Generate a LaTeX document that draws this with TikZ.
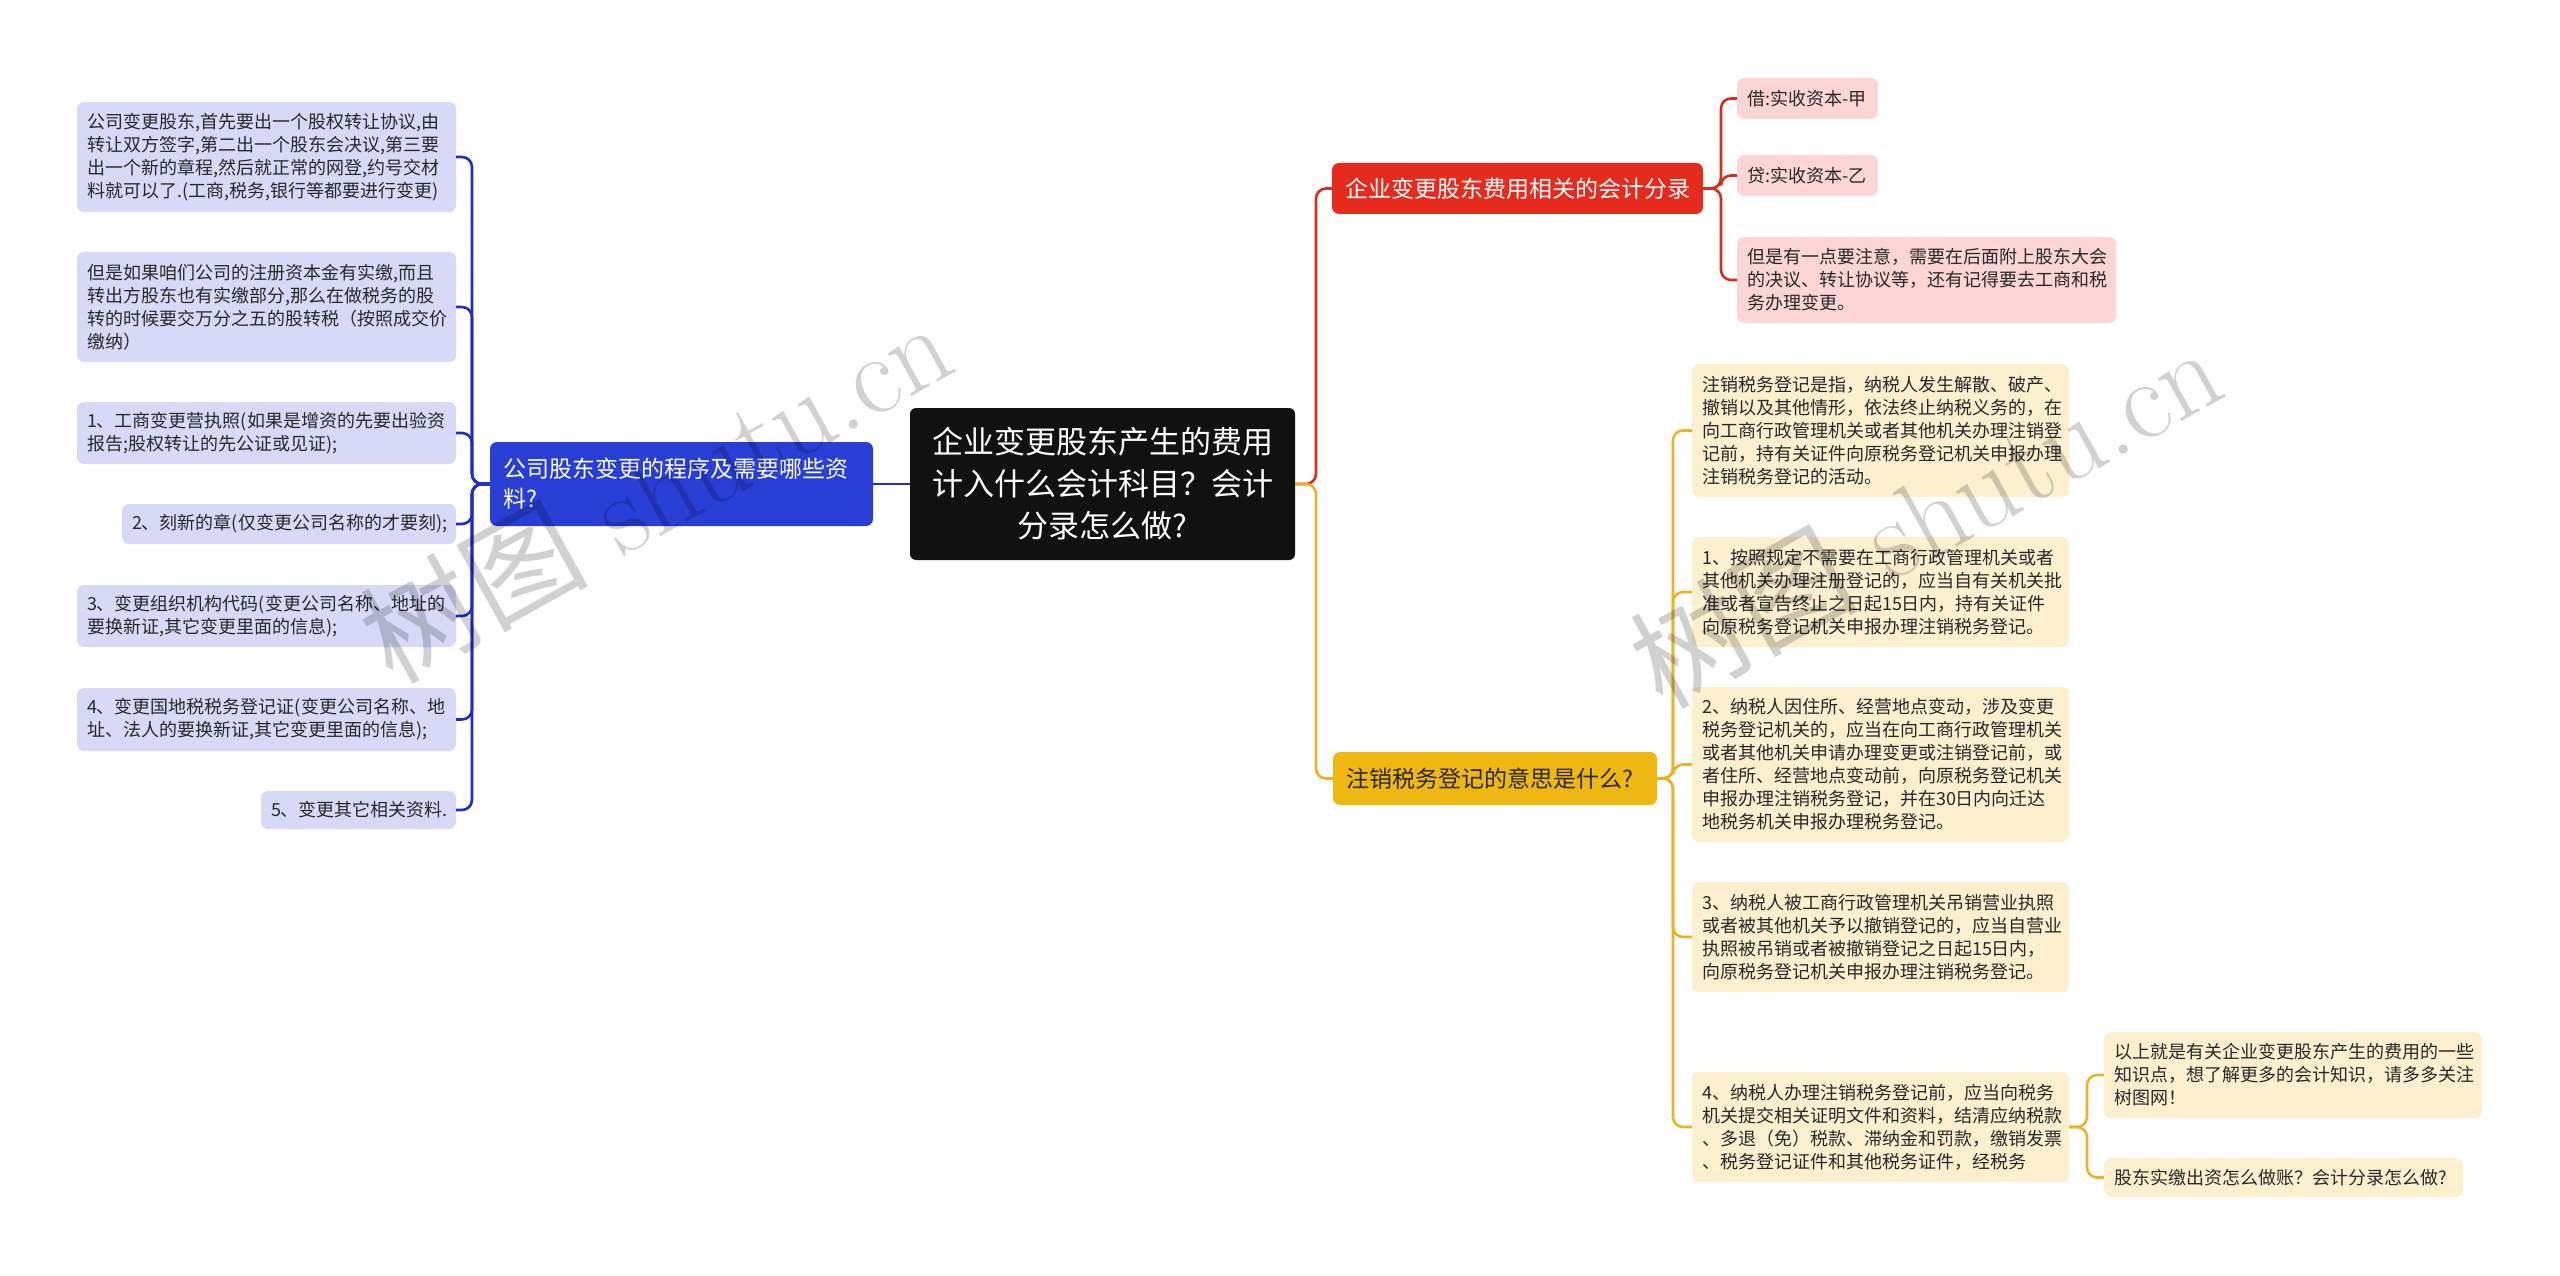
\documentclass[tikz,border=0pt]{standalone}
\usepackage{fontspec}
\newfontfamily\cjk{Noto Sans CJK SC}
\definecolor{cfill}{RGB}{17,17,17}
\definecolor{bmain}{RGB}{40,62,212}
\definecolor{bleaf}{RGB}{215,218,247}
\definecolor{bline}{RGB}{32,48,190}
\definecolor{rmain}{RGB}{228,43,30}
\definecolor{rleaf}{RGB}{251,214,212}
\definecolor{rline}{RGB}{208,48,32}
\definecolor{ymain}{RGB}{239,183,18}
\definecolor{yleaf}{RGB}{253,240,207}
\definecolor{yline}{RGB}{232,180,40}
\definecolor{txt}{RGB}{40,40,40}
\tikzset{
  base/.style={rounded corners=7pt, inner xsep=10pt, inner ysep=0pt, align=left},
  leafB/.style={base, fill=bleaf, text=txt, font=\cjk\fontsize{18}{23}\selectfont},
  leafR/.style={base, fill=rleaf, text=txt, font=\cjk\fontsize{18}{23}\selectfont},
  leafY/.style={base, fill=yleaf, text=txt, font=\cjk\fontsize{18}{23}\selectfont},
  topic/.style={base, inner xsep=13pt, font=\cjk\fontsize{23}{30}\selectfont},
  conn/.style={line width=2.6pt, rounded corners=10pt},
  wmark/.style={text=black, opacity=0.18, font=\fontsize{114}{114}\selectfont, rotate=29}
}
\begin{document}
\begin{tikzpicture}[x=1pt,y=-1pt]
\useasboundingbox[fill=white] (0,0) rectangle (2560,1276);

% central
\node[base, fill=cfill, text=white, align=center, text width=365pt, minimum height=152pt, rounded corners=6pt,
  font=\cjk\fontsize{31}{42}\selectfont] (c) at (1102.5,484)
  {企业变更股东产生的费用\\计入什么会计科目？会计\\分录怎么做?};

% left branch
\node[topic, fill=bmain, text=white, text width=357pt, minimum height=84pt] (b) at (681.5,484)
  {公司股东变更的程序及需要哪些资\\料?};
\node[leafB, text width=359pt, minimum height=110pt] (l1) at (266.5,157)
  {公司变更股东,首先要出一个股权转让协议,由\\转让双方签字,第二出一个股东会决议,第三要\\出一个新的章程,然后就正常的网登,约号交材\\料就可以了.(工商,税务,银行等都要进行变更)};
\node[leafB, text width=359pt, minimum height=110pt] (l2) at (266.5,307)
  {但是如果咱们公司的注册资本金有实缴,而且\\转出方股东也有实缴部分,那么在做税务的股\\转的时候要交万分之五的股转税（按照成交价\\缴纳）};
\node[leafB, text width=359pt, minimum height=62pt] (l3) at (266.5,433)
  {1、工商变更营执照(如果是增资的先要出验资\\报告;股权转让的先公证或见证);};
\node[leafB, text width=314pt, minimum height=40pt] (l4) at (289,524)
  {2、刻新的章(仅变更公司名称的才要刻);};
\node[leafB, text width=359pt, minimum height=62pt] (l5) at (266.5,616)
  {3、变更组织机构代码(变更公司名称、地址的\\要换新证,其它变更里面的信息);};
\node[leafB, text width=359pt, minimum height=63pt] (l6) at (266.5,719.5)
  {4、变更国地税税务登记证(变更公司名称、地\\址、法人的要换新证,其它变更里面的信息);};
\node[leafB, text width=175pt, minimum height=38pt] (l7) at (358.5,810)
  {5、变更其它相关资料.};

% red branch
\node[topic, fill=rmain, text=white, text width=345pt, minimum height=51pt] (r) at (1517.5,188.5)
  {企业变更股东费用相关的会计分录};
\node[leafR, text width=121pt, minimum height=41pt] (r1) at (1807.5,98.5) {借:实收资本-甲};
\node[leafR, text width=121pt, minimum height=41pt] (r2) at (1807.5,175.5) {贷:实收资本-乙};
\node[leafR, text width=359pt, minimum height=86pt] (r3) at (1926.5,280)
  {但是有一点要注意，需要在后面附上股东大会\\的决议、转让协议等，还有记得要去工商和税\\务办理变更。};

% yellow branch
\node[topic, fill=ymain, text=txt, text width=298pt, minimum height=53pt] (y) at (1495,778.5)
  {注销税务登记的意思是什么?};
\node[leafY, text width=357pt, minimum height=133pt] (ya) at (1880.5,430.5)
  {注销税务登记是指，纳税人发生解散、破产、\\撤销以及其他情形，依法终止纳税义务的，在\\向工商行政管理机关或者其他机关办理注销登\\记前，持有关证件向原税务登记机关申报办理\\注销税务登记的活动。};
\node[leafY, text width=357pt, minimum height=110pt] (yb) at (1880.5,592)
  {1、按照规定不需要在工商行政管理机关或者\\其他机关办理注册登记的，应当自有关机关批\\准或者宣告终止之日起15日内，持有关证件\\向原税务登记机关申报办理注销税务登记。};
\node[leafY, text width=357pt, minimum height=155pt] (yc) at (1880.5,764.5)
  {2、纳税人因住所、经营地点变动，涉及变更\\税务登记机关的，应当在向工商行政管理机关\\或者其他机关申请办理变更或注销登记前，或\\者住所、经营地点变动前，向原税务登记机关\\申报办理注销税务登记，并在30日内向迁达\\地税务机关申报办理税务登记。};
\node[leafY, text width=357pt, minimum height=110pt] (yd) at (1880.5,937)
  {3、纳税人被工商行政管理机关吊销营业执照\\或者被其他机关予以撤销登记的，应当自营业\\执照被吊销或者被撤销登记之日起15日内，\\向原税务登记机关申报办理注销税务登记。};
\node[leafY, text width=357pt, minimum height=110pt] (ye) at (1880.5,1127)
  {4、纳税人办理注销税务登记前，应当向税务\\机关提交相关证明文件和资料，结清应纳税款\\、多退（免）税款、滞纳金和罚款，缴销发票\\、税务登记证件和其他税务证件，经税务};
\node[leafY, text width=358pt, minimum height=86pt] (yf) at (2293,1075)
  {以上就是有关企业变更股东产生的费用的一些\\知识点，想了解更多的会计知识，请多多关注\\树图网！};
\node[leafY, text width=339pt, minimum height=39pt] (yg) at (2283.5,1177.5)
  {股东实缴出资怎么做账？会计分录怎么做?};

% connectors
\draw[conn, bline] (c.west) -- (b.east);
\foreach \n in {l1,l2,l3,l4,l5,l6,l7}
  \draw[conn, bline] (b.west) -- (472,484) |- (\n.east);
\draw[conn, rline] (c.east) -- (1316,484) |- (r.west);
\draw[conn, yline] (c.east) -- (1316,484) |- (y.west);
\foreach \n in {r1,r2,r3}
  \draw[conn, rline] (r.east) -- (1721,188.5) |- (\n.west);
\foreach \n in {ya,yb,yc,yd,ye}
  \draw[conn, yline] (y.east) -- (1673,778.5) |- (\n.west);
\foreach \n in {yf,yg}
  \draw[conn, yline] (ye.east) -- (2087,1127) |- (\n.west);

% watermarks
\node[wmark] (w1) at (655,490) {{\cjk 树图} shutu.cn};
\node[wmark] (w2) at (1925,515) {{\cjk 树图} shutu.cn};
\end{tikzpicture}
\end{document}
